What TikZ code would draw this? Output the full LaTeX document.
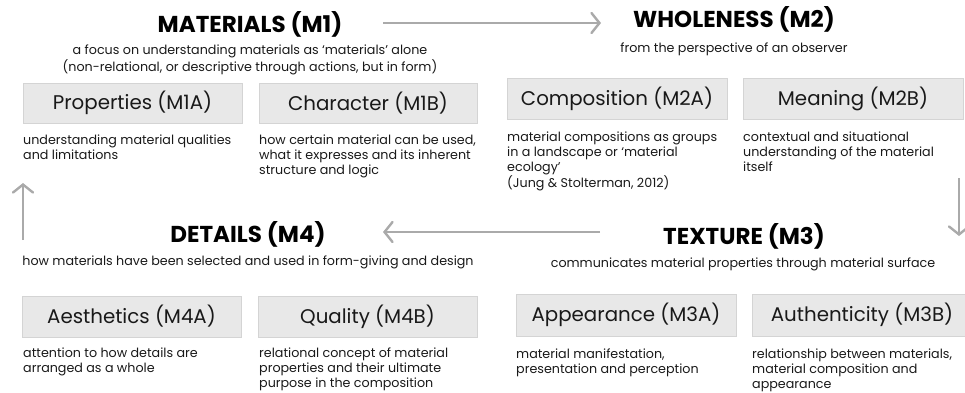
\documentclass[tikz,border=0pt]{standalone}
\usepackage{fontspec}
\setmainfont{Poppins}
\usetikzlibrary{arrows.meta}
\definecolor{boxfill}{RGB}{232,232,232}
\definecolor{boxedge}{RGB}{212,212,212}
\definecolor{arrowgray}{RGB}{170,170,170}
\definecolor{txt}{RGB}{25,25,25}
\newcommand{\desclines}[1]{\parbox[t]{230pt}{\raggedright #1}}
\begin{document}
\begin{tikzpicture}[x=1pt,y=-1pt,
  title/.style={anchor=base,inner sep=0pt,font=\fontsize{23}{27}\selectfont\bfseries,text=black},
  subtitle/.style={anchor=base,inner sep=0pt,align=center,font=\fontsize{12.7}{15}\selectfont,text=txt},
  catbox/.style={draw=boxedge,fill=boxfill,line width=0.8pt,font=\fontsize{19.8}{23}\selectfont,text=txt},
  desc/.style={anchor=base west,inner sep=0pt,font=\fontsize{12.7}{15}\selectfont,text=txt},
  flow/.style={draw=arrowgray,line width=2.4pt,-{Straight Barb[length=8pt,width=20pt,line cap=round]}}
]
\useasboundingbox (0,0) rectangle (965,392);
% titles
\node[title] (m1) at (250,32) {MATERIALS (M1)};
\node[title] (m2) at (734,27) {WHOLENESS (M2)};
\node[title] (m4) at (248,242) {DETAILS (M4)};
\node[title] (m3) at (744,244) {TEXTURE (M3)};
% subtitles
\node[subtitle] (m1s) at (250,71) {a focus on understanding materials as ‘materials’ alone\\(non-relational, or descriptive through actions, but in form)};
\node[subtitle] (m2s) at (734,52) {from the perspective of an observer};
\node[subtitle] (m4s) at (248,265) {how materials have been selected and used in form-giving and design};
\node[subtitle] (m3s) at (743,267) {communicates material properties through material surface};
% boxes
\path[catbox] (23,83) rectangle (242,123) node[midway,draw=none] (m1a) {Properties (M1A)};
\path[catbox] (259,83) rectangle (477,123) node[midway,draw=none] (m1b) {Character (M1B)};
\path[catbox] (507,78) rectangle (727,119) node[midway,draw=none] (m2a) {Composition (M2A)};
\path[catbox] (743,78) rectangle (963,119) node[midway,draw=none] (m2b) {Meaning (M2B)};
\path[catbox] (22,296) rectangle (241,337) node[midway,draw=none] (m4a) {Aesthetics (M4A)};
\path[catbox] (258,296) rectangle (477,337) node[midway,draw=none] (m4b) {Quality (M4B)};
\path[catbox] (516,294) rectangle (736,336) node[midway,draw=none] (m3a) {Appearance (M3A)};
\path[catbox] (752,294) rectangle (972,336) node[midway,draw=none] (m3b) {Authenticity (M3B)};
% descriptions
\node[desc] (d1a) at (23,144) {\desclines{understanding material qualities\\and limitations}};
\node[desc] (d1b) at (259,144) {\desclines{how certain material can be used,\\what it expresses and its inherent\\structure and logic}};
\node[desc] (d2a) at (507,141) {\desclines{material compositions as groups\\in a landscape or ‘material\\ecology’\\(Jung \& Stolterman, 2012)}};
\node[desc] (d2b) at (743,141) {\desclines{contextual and situational\\understanding of the material\\itself}};
\node[desc] (d4a) at (23,357) {\desclines{attention to how details are\\arranged as a whole}};
\node[desc] (d4b) at (259,357) {\desclines{relational concept of material\\properties and their ultimate\\purpose in the composition}};
\node[desc] (d3a) at (516,358) {\desclines{material manifestation,\\presentation and perception}};
\node[desc] (d3b) at (752,358) {\desclines{relationship between materials,\\material composition and\\appearance}};
% arrows
\coordinate (a1s) at (383,23); \coordinate (a1e) at (601,23);
\coordinate (a2s) at (959,178); \coordinate (a2e) at (959,236);
\coordinate (a3s) at (600,232); \coordinate (a3e) at (383,232);
\coordinate (a4s) at (23,240); \coordinate (a4e) at (23,183);
\draw[flow] (a1s) -- (a1e);
\draw[flow] (a2s) -- (a2e);
\draw[flow] (a3s) -- (a3e);
\draw[flow] (a4s) -- (a4e);
\end{tikzpicture}
\end{document}
